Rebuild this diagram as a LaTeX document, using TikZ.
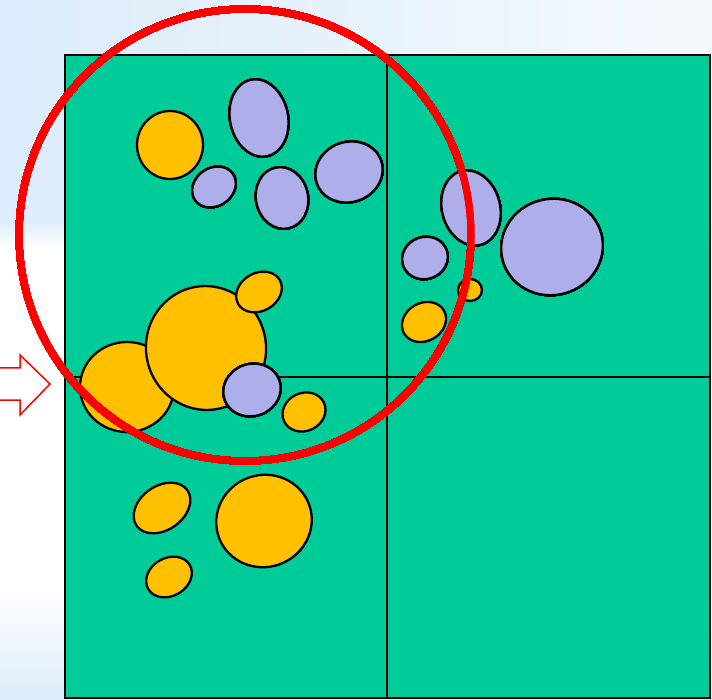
\documentclass[tikz,border=0pt]{standalone}
\usepackage{xcolor}
\definecolor{cellgreen}{RGB}{0,204,153}
\definecolor{blobyellow}{RGB}{255,192,0}
\definecolor{bloblilac}{RGB}{174,174,235}
\definecolor{skyblue}{RGB}{220,236,250}
\newcommand{\blob}[6]{% style, cx, cy, rx, ry, angle
    \draw[#1, rotate around={#6:(#2,#3)}] (#2,#3) ellipse [x radius=#4, y radius=#5];
}

\begin{document}
\begin{tikzpicture}[x=1pt,y=-1pt,
    yellowblob/.style={fill=blobyellow, draw=black, line width=2.3pt},
    lilacblob/.style={fill=bloblilac, draw=black, line width=2.3pt},
    gridline/.style={draw=black, line width=2pt}]
        \useasboundingbox (0,0) rectangle (712,700);
        % slide background
        \fill[white] (0,0) rectangle (712,700);
        \shade[left color=skyblue, right color=skyblue!30] (0,0) rectangle (712,225);
        \shade[top color=skyblue!80, bottom color=white] (0,225) rectangle (712,250);
        \shade[top color=white, bottom color=skyblue] (0,585) rectangle (712,700);
        % the four cells
        \coordinate (nw) at (65,55);
        \coordinate (se) at (710,698);
        \coordinate (mid) at (387,377);
        \filldraw[fill=cellgreen, gridline] (nw) rectangle (se);
        \draw[gridline] (mid |- nw) -- (mid |- se);
        \draw[gridline] (mid -| nw) -- (mid -| se);
        % yellow points
        \foreach \cx/\cy/\rx/\ry/\ang in {
            127/387/47/45/0, 206/348/60/62/10, 259/292/24/19/30,
            170/145/33/34/0, 304/412/22/19/25, 162/508/31/22/35,
            264/521/48/46/20, 169/577/24/19/30, 424/322/23/19/30,
            470/290/12/11/0}
        \blob{yellowblob}{\cx}{\cy}{\rx}{\ry}{\ang}
        % lilac points
        \foreach \cx/\cy/\rx/\ry/\ang in {
            259/118/29/39/12, 214/187/23/19/35, 282/198/26/31/12,
            349/172/34/30/20, 252/390/29/26/20, 471/208/29/38/15,
            552/247/51/48/15, 425/258/23/21/20}
        \blob{lilacblob}{\cx}{\cy}{\rx}{\ry}{\ang}
        % query region
        \draw[red, line width=7pt] (245,235) ellipse [x radius=226, y radius=226];
        % hollow arrow
        \filldraw[fill=white, draw=red, line width=1.5pt]
        (0,368) --
        (20,368) --
        (20,355) --
        (50,384) --
        (20,415) --
        (20,400) --
        (0,400);
    \end{tikzpicture}
\end{document}
